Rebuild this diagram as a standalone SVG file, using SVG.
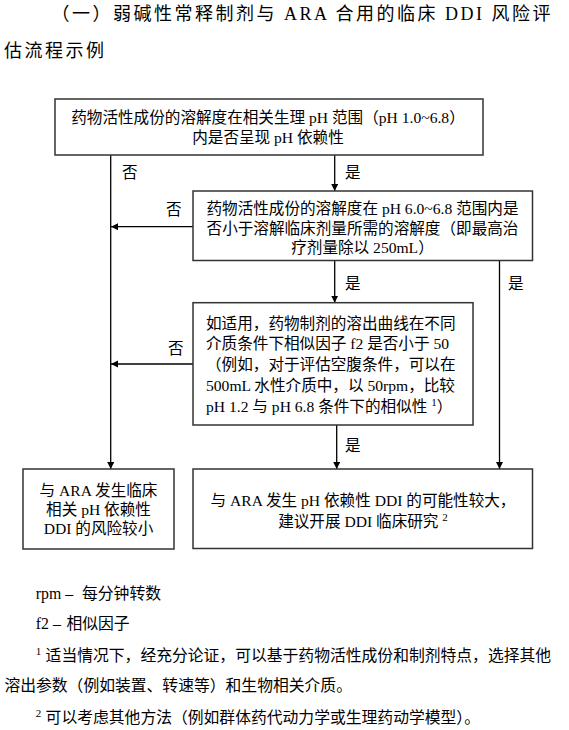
<svg xmlns="http://www.w3.org/2000/svg" width="569" height="730" viewBox="0 0 569 730">
<style>
.t { font-family: "Liberation Serif", "Noto Sans CJK SC", serif; font-size: 15.6px; fill: #000; }
.c { text-anchor: middle; }
.ti { font-size: 18px; letter-spacing: 2.5px; }
.fn { font-size: 15.8px; }
.sup { font-size: 11px; }
.box { fill: #fff; stroke: #333; stroke-width: 1.5; }
.ln { stroke: #000; stroke-width: 1.3; fill: none; }
</style>
<defs>
<marker id="ah" markerWidth="8" markerHeight="8" refX="7" refY="3.5" orient="auto" markerUnits="userSpaceOnUse">
<path d="M0,0 L7,3.5 L0,7 z" fill="#000"/>
</marker>
</defs>
<rect width="569" height="730" fill="#fff"/>

<g id="title">
<text class="t ti" x="51.5" y="19.5">（一）弱碱性常释制剂与 ARA 合用的临床 DDI 风险评</text>
<text class="t ti" x="4" y="56.8">估流程示例</text>
</g>

<g id="connectors">
<path class="ln" d="M110.7,155 V469" marker-end="url(#ah)"/>
<path class="ln" d="M334.7,155 V191" marker-end="url(#ah)"/>
<path class="ln" d="M193,226.7 H111" marker-end="url(#ah)"/>
<path class="ln" d="M334.7,260.7 V302.7" marker-end="url(#ah)"/>
<path class="ln" d="M499.5,260.7 V469" marker-end="url(#ah)"/>
<path class="ln" d="M193,364 H111" marker-end="url(#ah)"/>
<path class="ln" d="M336.7,425 V469" marker-end="url(#ah)"/>
<text class="t" x="122" y="177.5">否</text>
<text class="t" x="345" y="177.5">是</text>
<text class="t" x="166" y="215">否</text>
<text class="t" x="345" y="289">是</text>
<text class="t" x="508" y="289">是</text>
<text class="t" x="168" y="354">否</text>
<text class="t" x="345" y="451">是</text>
</g>

<g id="n1">
<rect class="box" x="55" y="99" width="428" height="56"/>
<text class="t c" x="268" y="122.5">药物活性成份的溶解度在相关生理 pH 范围（pH 1.0~6.8）</text>
<text class="t c" x="268" y="142.5">内是否呈现 pH 依赖性</text>
</g>

<g id="n2">
<rect class="box" x="193" y="191" width="339.5" height="69.5"/>
<text class="t c" x="362.5" y="214">药物活性成份的溶解度在 pH 6.0~6.8 范围内是</text>
<text class="t c" x="362.5" y="234">否小于溶解临床剂量所需的溶解度（即最高治</text>
<text class="t c" x="362.5" y="252.5">疗剂量除以 250mL）</text>
</g>

<g id="n3">
<rect class="box" x="193" y="302.7" width="280" height="122.3"/>
<text class="t" x="206" y="329">如适用，药物制剂的溶出曲线在不同</text>
<text class="t" x="206" y="349">介质条件下相似因子 f2 是否小于 50</text>
<text class="t" x="206" y="370">（例如，对于评估空腹条件，可以在</text>
<text class="t" x="206" y="391">500mL 水性介质中，以 50rpm，比较</text>
<text class="t" x="206" y="411.5">pH 1.2 与 pH 6.8 条件下的相似性 <tspan class="sup" dy="-6">1</tspan><tspan dy="6">）</tspan></text>
</g>

<g id="n4">
<rect class="box" x="23" y="469" width="151" height="80"/>
<text class="t c" x="98.5" y="496">与 ARA 发生临床</text>
<text class="t c" x="98.5" y="515">相关 pH 依赖性</text>
<text class="t c" x="98.5" y="534">DDI 的风险较小</text>
</g>

<g id="n5">
<rect class="box" x="193" y="469" width="339.5" height="79.5"/>
<text class="t c" x="363" y="506">与 ARA 发生 pH 依赖性 DDI 的可能性较大，</text>
<text class="t c" x="363" y="526.5">建议开展 DDI 临床研究 <tspan class="sup" dy="-6">2</tspan></text>
</g>

<g id="notes">
<text class="t fn" x="35.8" y="599">rpm –</text>
<text class="t fn" x="82" y="599">每分钟转数</text>
<text class="t fn" x="35.8" y="629">f2 –</text>
<text class="t fn" x="66.4" y="629">相似因子</text>
<text class="t fn" x="35.8" y="661"><tspan class="sup" dy="-6">1</tspan><tspan x="45.6" dy="6">适当情况下，经充分论证，可以基于药物活性成份和制剂特点，选择其他</tspan></text>
<text class="t fn" x="4.4" y="691">溶出参数（例如装置、转速等）和生物相关介质。</text>
<text class="t fn" x="35.8" y="722.7"><tspan class="sup" dy="-6">2</tspan><tspan x="45.6" dy="6">可以考虑其他方法（例如群体药代动力学或生理药动学模型）。</tspan></text>
</g>
</svg>
